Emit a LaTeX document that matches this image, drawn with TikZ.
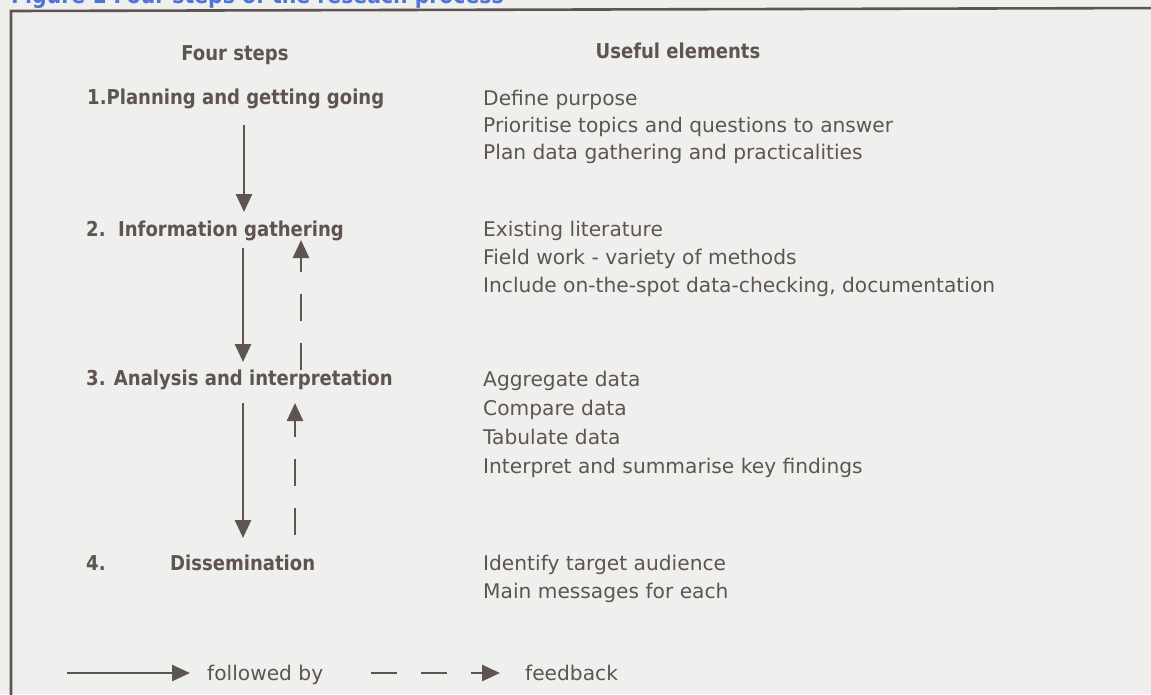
\documentclass[tikz,border=0pt]{standalone}
\usepackage{fontspec}
\setmainfont{DejaVu Sans}
\newfontfamily\bfam[FakeStretch=0.88]{DejaVu Sans}
\usetikzlibrary{arrows.meta}
\definecolor{ink}{HTML}{5E5452}
\definecolor{paper}{HTML}{EFEFED}
\definecolor{ttl}{HTML}{4F74D8}
\tikzset{
  lbl/.style={inner sep=0pt, anchor=base west, text=ink, font=\bfam\bfseries\fontsize{20.5}{24}\selectfont},
  item/.style={inner sep=0pt, anchor=base west, text=ink, font=\fontsize{20.2}{24}\selectfont},
  flow/.style={draw=ink, line width=2.6pt, -{Triangle[length=18pt,width=16pt]}},
  fb/.style={flow, dash pattern=on 27pt off 22pt},
}
\begin{document}
\begin{tikzpicture}[x=1pt,y=-1pt]
\useasboundingbox (0,0) rectangle (1151,694);
\fill[paper] (0,0) rectangle (1151,694);
\clip (0,0) rectangle (1151,694);
% title (cut off at top)
\node[inner sep=0pt, anchor=base west, text=ttl, font=\bfam\bfseries\fontsize{23.2}{26}\selectfont] (title) at (11,3.5) {Figure 1 Four steps of the reseach process};
% frame
\draw[ink, line width=2.6pt] (11,710) -- (11,11) -- (1170,8);
% headers
\node[lbl, anchor=base] (h1) at (235,60) {Four steps};
\node[lbl, anchor=base] (h2) at (678,58) {Useful elements};
% steps
\node[lbl] (s1) at (87,104) {1.Planning and getting going};
\node[lbl] (s2) at (86,236) {2.\ \ Information gathering};
\node[lbl] (s3) at (86,385) {3. Analysis and interpretation};
\node[lbl] (s4n) at (86,570) {4.};
\node[lbl] (s4) at (170,570) {Dissemination};
% elements
\node[item] (e11) at (483,105) {Define purpose};
\node[item] (e12) at (483,132) {Prioritise topics and questions to answer};
\node[item] (e13) at (483,159) {Plan data gathering and practicalities};
\node[item] (e21) at (483,236) {Existing literature};
\node[item] (e22) at (483,264) {Field work - variety of methods};
\node[item] (e23) at (483,292) {Include on-the-spot data-checking, documentation};
\node[item] (e31) at (483,386) {Aggregate data};
\node[item] (e32) at (483,415) {Compare data};
\node[item] (e33) at (483,444) {Tabulate data};
\node[item] (e34) at (483,473) {Interpret and summarise key findings};
\node[item] (e41) at (483,570) {Identify target audience};
\node[item] (e42) at (483,598) {Main messages for each};
% arrow end points
\coordinate (a1s) at (244,125); \coordinate (a1e) at (244,212);
\coordinate (a2s) at (243,248); \coordinate (a2e) at (243,362);
\coordinate (a3s) at (243,403); \coordinate (a3e) at (243,538);
\coordinate (b1s) at (301,370); \coordinate (b1e) at (301,240);
\coordinate (b2s) at (295,535); \coordinate (b2e) at (295,403);
\draw[flow] (a1s) -- (a1e);
\draw[flow] (a2s) -- (a2e);
\draw[flow] (a3s) -- (a3e);
\draw[fb] (b1s) -- (b1e);
\draw[fb] (b2s) -- (b2e);
% legend
\coordinate (l1s) at (67,673); \coordinate (l1e) at (190,673);
\coordinate (l2s) at (371,673); \coordinate (l2e) at (500,673);
\draw[flow] (l1s) -- (l1e);
\draw[fb, dash pattern=on 26pt off 24pt] (l2s) -- (l2e);
\node[item] (lt1) at (207,680) {followed by};
\node[item] (lt2) at (525,680) {feedback};
\end{tikzpicture}
\end{document}
